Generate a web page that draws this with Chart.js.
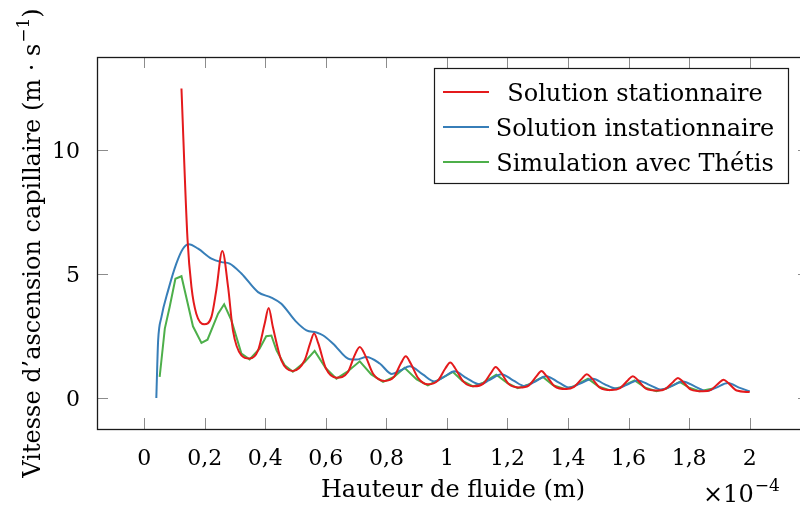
<!DOCTYPE html>
<html><head><meta charset="utf-8">
<script src="https://cdn.jsdelivr.net/npm/chart.js@4.4.0/dist/chart.umd.min.js"></script>
<style>html,body{margin:0;padding:0;overflow:hidden;background:#fff;width:800px;height:507px}canvas{display:block}</style>
</head><body>
<canvas id="c" width="812" height="507"></canvas>
<script>
// ---- data (x in units of 1e-4 m) ----
const seriesLabels = ['Solution stationnaire', 'Solution instationnaire', 'Simulation avec Thétis'];

const statX = [0.123,0.143,0.156,0.172,0.198,0.222,0.238,0.258,0.277,0.293,0.321,0.348,0.376,0.398,0.411,0.425,0.453,0.491,0.530,0.548,0.561,0.575,0.600,0.635,0.673,0.695,0.712,0.730,0.756,0.794,0.825,0.848,0.864,0.880,0.905,0.937,0.970,0.995,1.011,1.027,1.055,1.090,1.120,1.145,1.161,1.177,1.205,1.240,1.270,1.296,1.312,1.328,1.355,1.394,1.420,1.446,1.462,1.478,1.505,1.543,1.572,1.598,1.614,1.630,1.657,1.697,1.722,1.748,1.763,1.779,1.806,1.845,1.872,1.898,1.914,1.930,1.957,2.000];
const statY = [12.48,6.4,4.48,3.4,2.97,3.27,4.34,5.93,4.48,2.73,1.72,1.59,1.92,3.0,3.63,2.86,1.52,1.09,1.52,2.2,2.6,2.2,1.2,0.82,1.05,1.72,2.06,1.72,0.98,0.69,0.85,1.4,1.68,1.4,0.8,0.55,0.7,1.2,1.43,1.2,0.65,0.47,0.58,1.0,1.25,1.05,0.55,0.42,0.5,0.88,1.09,0.9,0.48,0.36,0.45,0.78,0.96,0.8,0.42,0.32,0.4,0.72,0.88,0.73,0.38,0.30,0.37,0.66,0.81,0.66,0.34,0.27,0.33,0.6,0.74,0.6,0.3,0.24];

const instX = [0.040,0.043,0.046,0.057,0.079,0.106,0.128,0.147,0.178,0.222,0.255,0.282,0.321,0.376,0.420,0.453,0.500,0.536,0.569,0.590,0.624,0.679,0.700,0.734,0.778,0.818,0.848,0.877,0.920,0.959,0.990,1.025,1.065,1.108,1.140,1.180,1.220,1.257,1.290,1.328,1.370,1.405,1.440,1.482,1.520,1.559,1.594,1.631,1.670,1.708,1.742,1.779,1.820,1.857,1.890,1.928,1.965,2.000];
const instY = [0.0,1.3,2.33,3.27,4.34,5.42,6.02,6.2,6.02,5.62,5.48,5.42,5.02,4.27,4.05,3.8,3.1,2.73,2.64,2.53,2.19,1.56,1.55,1.65,1.39,0.97,1.12,1.28,0.95,0.67,0.85,1.08,0.8,0.55,0.72,0.96,0.7,0.48,0.65,0.88,0.62,0.42,0.58,0.78,0.56,0.38,0.53,0.71,0.52,0.34,0.48,0.67,0.46,0.28,0.42,0.60,0.42,0.27];

const simX = [0.051,0.068,0.084,0.103,0.123,0.161,0.189,0.209,0.244,0.264,0.288,0.321,0.348,0.381,0.403,0.420,0.437,0.464,0.491,0.530,0.563,0.600,0.635,0.670,0.712,0.750,0.789,0.825,0.860,0.900,0.937,0.980,1.020,1.050,1.086,1.120,1.163,1.200,1.234,1.270,1.317,1.350,1.389,1.420,1.466,1.500,1.537,1.570,1.620,1.655,1.692,1.725,1.769,1.800,1.835,1.879];
const simY = [0.85,2.8,3.67,4.81,4.91,2.89,2.22,2.35,3.4,3.78,3.13,1.79,1.56,1.99,2.49,2.52,1.92,1.32,1.06,1.45,1.9,1.2,0.78,1.05,1.48,0.95,0.65,0.85,1.22,0.75,0.51,0.78,1.05,0.7,0.47,0.62,0.94,0.6,0.40,0.55,0.85,0.52,0.36,0.48,0.78,0.47,0.31,0.42,0.71,0.42,0.27,0.38,0.65,0.42,0.27,0.38];

const xTicks = [0,0.2,0.4,0.6,0.8,1,1.2,1.4,1.6,1.8,2];
const xTickLabels = ['0','0,2','0,4','0,6','0,8','1','1,2','1,4','1,6','1,8','2'];
const yTicks = [0,5,10];
const yTickLabels = ['0','5','10'];
const xTitle = 'Hauteur de fluide (m)';
const yTitleMain = 'Vitesse d\u2019ascension capillaire (m \u00b7 s';
const yTitleSup = '\u22121';
const yTitleEnd = ')';
const xMultBase = '\u00d710';
const xMultExp = '\u22124';

const colors = ['#e41a1c', '#377eb8', '#4daf4a'];
const FONT = '"DejaVu Serif", serif';

const pts = (xs, ys) => xs.map((v, i) => ({x: v, y: ys[i]}));

const decor = {
  id: 'decor',
  afterDraw(chart) {
    const {ctx, chartArea: a, scales: {x, y}} = chart;
    ctx.save();
    // inward ticks on all four sides
    ctx.strokeStyle = '#8c8c8c'; ctx.lineWidth = 1;
    ctx.beginPath();
    xTicks.forEach(v => {
      const px = Math.round(x.getPixelForValue(v)) + 0.5;
      ctx.moveTo(px, a.bottom); ctx.lineTo(px, a.bottom - 11);
      ctx.moveTo(px, a.top); ctx.lineTo(px, a.top + 11);
    });
    yTicks.forEach(v => {
      const py = Math.round(y.getPixelForValue(v)) + 0.5;
      ctx.moveTo(a.left, py); ctx.lineTo(a.left + 11, py);
      ctx.moveTo(a.right, py); ctx.lineTo(a.right - 11, py);
    });
    ctx.stroke();
    // frame
    ctx.strokeStyle = '#1a1a1a'; ctx.lineWidth = 1.3;
    ctx.strokeRect(Math.round(a.left) + 0.5, Math.round(a.top) + 0.5, a.right - a.left, a.bottom - a.top);
    // tick labels
    ctx.fillStyle = '#000';
    ctx.font = '22px ' + FONT;
    ctx.textBaseline = 'alphabetic';
    ctx.textAlign = 'center';
    xTicks.forEach((v, i) => ctx.fillText(xTickLabels[i], x.getPixelForValue(v), 465));
    ctx.textAlign = 'right';
    yTicks.forEach((v, i) => ctx.fillText(yTickLabels[i], a.left - 17, y.getPixelForValue(v) + 8));
    // x title
    ctx.font = '24px ' + FONT;
    ctx.textAlign = 'center';
    ctx.fillText(xTitle, (a.left + a.right) / 2, 497);
    // multiplier
    ctx.textAlign = 'left';
    ctx.font = '24px ' + FONT;
    const mx = 703;
    ctx.fillText(xMultBase, mx, 502);
    const mw = ctx.measureText(xMultBase).width;
    ctx.font = '17px ' + FONT;
    ctx.fillText(xMultExp, mx + mw + 1, 491);
    // y title (rotated)
    ctx.save();
    ctx.translate(40, (a.top + a.bottom) / 2);
    ctx.rotate(-Math.PI / 2);
    ctx.font = '24px ' + FONT;
    const w1 = ctx.measureText(yTitleMain).width;
    const w3 = ctx.measureText(yTitleEnd).width;
    ctx.font = '17px ' + FONT;
    const w2 = ctx.measureText(yTitleSup).width;
    const tot = w1 + w2 + w3 + 1;
    let sx = -tot / 2;
    ctx.textAlign = 'left';
    ctx.font = '24px ' + FONT;
    ctx.fillText(yTitleMain, sx, 0);
    ctx.font = '17px ' + FONT;
    ctx.fillText(yTitleSup, sx + w1 + 1, -11);
    ctx.font = '24px ' + FONT;
    ctx.fillText(yTitleEnd, sx + w1 + w2 + 1, 0);
    ctx.restore();
    // legend
    const L = 434.5, T = 68.5, W = 354, H = 115;
    ctx.fillStyle = '#fff';
    ctx.fillRect(L, T, W, H);
    ctx.strokeStyle = '#1a1a1a'; ctx.lineWidth = 1.2;
    ctx.strokeRect(L, T, W, H);
    ctx.font = '24px ' + FONT;
    ctx.textAlign = 'center';
    chart.data.datasets.forEach((ds, i) => {
      const cy = 92 + i * 35;
      ctx.strokeStyle = ds.borderColor; ctx.lineWidth = 2;
      ctx.beginPath(); ctx.moveTo(443, cy); ctx.lineTo(489, cy); ctx.stroke();
      ctx.fillStyle = '#000';
      ctx.fillText(ds.label, 635, cy + 9);
    });
    ctx.restore();
  }
};

new Chart(document.getElementById('c'), {
  type: 'line',
  data: {
    datasets: [
      {label: seriesLabels[0], data: pts(statX, statY), borderColor: colors[0], borderWidth: 2, pointRadius: 0, cubicInterpolationMode: 'monotone', fill: false},
      {label: seriesLabels[1], data: pts(instX, instY), borderColor: colors[1], borderWidth: 2, pointRadius: 0, cubicInterpolationMode: 'monotone', fill: false},
      {label: seriesLabels[2], data: pts(simX, simY), borderColor: colors[2], borderWidth: 2, pointRadius: 0, tension: 0, fill: false}
    ]
  },
  options: {
    responsive: false,
    animation: false,
    devicePixelRatio: 1,
    layout: {padding: {left: 0, top: 57, right: 3, bottom: 0}},
    plugins: {legend: {display: false}, tooltip: {enabled: false}},
    scales: {
      x: {type: 'linear', min: -0.156, max: 2.196,
          ticks: {display: false}, grid: {display: false}, border: {display: false},
          afterFit: s => { s.height = 78; }},
      y: {type: 'linear', min: -1.25, max: 13.75,
          ticks: {display: false}, grid: {display: false}, border: {display: false},
          afterFit: s => { s.width = 97; }}
    }
  },
  plugins: [decor]
});
</script>
</body></html>
